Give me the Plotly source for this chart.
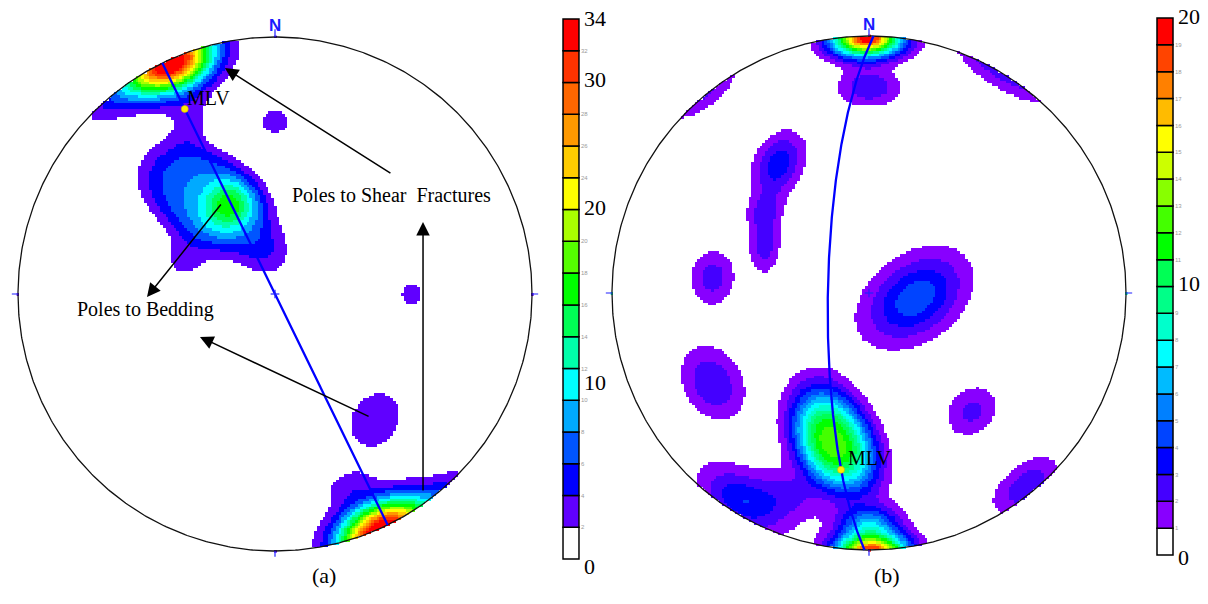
import numpy as np
import plotly.graph_objects as go

W, H = 1208, 604

# ---------------- contour bins and colours ----------------
bins_a = list(range(0, 36, 2))
colors_a = ["#ffffff", "#6000ff", "#0000ff", "#0055ff", "#00aaff", "#00ffff",
            "#00ffaa", "#00ff55", "#00ff00", "#55ff00", "#aaff00", "#ffff00",
            "#ffcc00", "#ff9900", "#ff6600", "#ff3300", "#ff0000"]
small_labels_a = [2, 4, 6, 8, 10, 12, 14, 16, 18, 20, 24, 26, 28, 32]
big_labels_a = ["0", "10", "20", "30", "34"]
big_label_pos_a = [-0.5, 11.1, 22.1, 30.2, 34.0]

bins_b = list(range(0, 21))
colors_b = ["#ffffff", "#8800ff", "#4400ff", "#0000ff", "#0044ff", "#0080ff",
            "#00bbff", "#00ffff", "#00ffcc", "#00ff88", "#00ff55", "#00ff00",
            "#44ff00", "#88ff00", "#ccff00", "#ffff00", "#ffbb00", "#ff8000",
            "#ff4400", "#ff0000"]
small_labels_b = [1, 2, 3, 4, 5, 6, 7, 8, 9, 11, 12, 13, 14, 15, 16, 17, 18, 19]
big_labels_b = ["0", "10", "20"]
big_label_pos_b = [-0.1, 10.1, 20.05]

# ---------------- pole concentrations, net (a) ----------------
# net x, net y (primitive radius = 1), spread along / across axis (deg),
# axis direction on the net (deg), peak density, profile sharpness
a_x = [-0.403, -0.58, -0.265, -0.18, -0.35, -0.03, -0.33, 0.00, 0.53, 0.39, 0.28]
a_y = [0.904, 0.80, 0.374, 0.345, 0.14, 0.15, 0.66, 0.67, 0.00, -0.49, -0.75]
a_s1 = [6.5, 7.0, 16.4, 5.6, 6.0, 5.5, 6.0, 5.0, 4.3, 8.6, 4.5]
a_s2 = [8.0, 5.5, 9.4, 5.6, 6.0, 5.5, 4.0, 5.0, 4.3, 7.5, 4.5]
a_ang = [24, 36, -37, 0, 0, 0, 90, 0, 0, 90, 0]
a_peak = [36.0, 5.0, 7.8, 10.0, 2.6, 2.6, 2.6, 2.6, 2.6, 3.2, 2.6]
a_sharp = [1, 1, 2, 1, 1, 1, 1, 1, 1, 1, 1]

# ---------------- pole concentrations, net (b) ----------------
b_x = [-0.01, 0.00, 0.61, -0.49, -0.14, 0.18, -0.354, -0.405, -0.41, -0.61, -0.61, 0.40, 0.00, -0.31]
b_y = [0.99, 0.80, -0.75, -0.81, -0.58, -0.02, 0.50, 0.19, 0.32, 0.06, -0.35, -0.46, -0.90, -0.78]
b_s1 = [5.2, 5.6, 6.0, 7.5, 11.8, 11.5, 7.0, 6.0, 4.0, 5.5, 7.2, 5.7, 5.0, 6.0]
b_s2 = [5.2, 4.8, 6.0, 7.5, 7.5, 7.8, 5.0, 3.5, 4.0, 5.5, 7.2, 5.7, 5.0, 6.0]
b_ang = [0, 0, 0, 0, 110, 35, 75, 90, 0, 0, 0, 0, 0, 0]
b_peak = [19.8, 2.9, 2.8, 3.9, 12.8, 4.8, 3.7, 2.6, 1.8, 2.5, 2.95, 2.3, 6.0, 1.8]
b_sharp = [1, 1, 1, 1, 1.25, 1, 1, 1, 1, 1, 1, 1, 1, 1]

# planes (dip direction, dip) and lineations (trend, plunge)
plane_a = (64.0, 90.0)
mlv_a = (334.0, 21.0)
plane_b = (271.0, 77.0)
mlv_b = (189.0, 31.0)

# annotation arrows on net (a): tail x, tail y, head x, head y (net units)
arrow_tail_x = [0.455, 0.576, -0.206, 0.370]
arrow_tail_y = [0.467, -0.770, 0.354, -0.479]
arrow_head_x = [-0.195, 0.576, -0.498, -0.292]
arrow_head_y = [0.879, 0.280, -0.012, -0.167]

SERIF = "Liberation Serif, Times New Roman, serif"


# ---------------- helpers ----------------
def net_vec(x, y):
    """Lambert equal-area (lower hemisphere) net point -> unit vector (N, E, Down)."""
    x = np.asarray(x, float)
    y = np.asarray(y, float)
    r2 = x * x + y * y
    f = np.sqrt(np.maximum(2.0 - r2, 0.0))
    return np.stack([y * f, x * f, 1.0 - r2], axis=-1)


def vec_net(v):
    n, e, d = v[..., 0], v[..., 1], v[..., 2]
    s = np.sqrt(1.0 / (1.0 + d))
    return e * s, n * s


def line_vec(trend, plunge):
    t, p = np.radians(trend), np.radians(plunge)
    return np.array([np.cos(p) * np.cos(t), np.cos(p) * np.sin(t), np.sin(p)])


def great_circle(dipdir, dip, n=361):
    strike = np.radians(dipdir - 90.0)
    s = np.array([np.cos(strike), np.sin(strike), 0.0])
    dv = line_vec(dipdir, dip)
    al = np.radians(np.linspace(0, 180, n))
    pts = np.outer(np.cos(al), s) + np.outer(np.sin(al), dv)
    pts[:, 2] = np.maximum(pts[:, 2], 0.0)
    return vec_net(pts)


def density(xs, ys, s1s, s2s, angs, peaks, sharp, n=191):
    g = np.linspace(-1.0, 1.0, n)
    X, Y = np.meshgrid(g, g)
    P = net_vec(X, Y)
    Z = np.zeros_like(X)
    for x0, y0, s1, s2, ang, A, k in zip(xs, ys, s1s, s2s, angs, peaks, sharp):
        c = net_vec(x0, y0)
        c = c / np.linalg.norm(c)
        b = np.radians(ang)
        eps = 1e-4
        d = net_vec(x0 + eps * np.cos(b), y0 + eps * np.sin(b)) - c
        d = d - d.dot(c) * c
        e1 = d / np.linalg.norm(d)
        e2 = np.cross(c, e1)
        sg = np.sign(P @ c)
        Q = P * sg[..., None]
        a1 = Q @ e1
        a2 = Q @ e2
        q = (a1 / np.radians(s1)) ** 2 + (a2 / np.radians(s2)) ** 2
        Z += A * np.exp(-((q / 2.0) ** k))
    Z[X * X + Y * Y > 1.0] = np.nan
    return g, Z


def step_scale(colors):
    n = len(colors)
    cs = []
    for i, col in enumerate(colors):
        cs.append([i / n, col])
        cs.append([(i + 1) / n, col])
    return cs


def domain(p0, p1, v0, v1, r0, r1, total, flip=False):
    """Axis domain so that value v0 sits at pixel p0 and v1 at p1, for range r0..r1."""
    k = (p1 - p0) / (v1 - v0)
    a = p0 + (r0 - v0) * k
    b = p0 + (r1 - v0) * k
    lo, hi = min(a, b), max(a, b)
    if flip:
        return [1 - hi / total, 1 - lo / total]
    return [lo / total, hi / total]


fig = go.Figure()

NET_R = 257.0
RNG = 1.06
nets = [
    dict(name="a", cx=275.0, cy=294.0, data=(a_x, a_y, a_s1, a_s2, a_ang, a_peak, a_sharp),
         bins=bins_a, colors=colors_a, plane=plane_a, mlv=mlv_a, xa="x", ya="y"),
    dict(name="b", cx=869.0, cy=293.0, data=(b_x, b_y, b_s1, b_s2, b_ang, b_peak, b_sharp),
         bins=bins_b, colors=colors_b, plane=plane_b, mlv=mlv_b, xa="x2", ya="y2"),
]

layout_axes = {}
theta = np.linspace(0, 2 * np.pi, 721)
for i, net in enumerate(nets):
    xa, ya = net["xa"], net["ya"]
    g, Z = density(*net["data"])
    zmax = net["bins"][-1]
    fig.add_trace(go.Heatmap(x=g, y=g, z=np.minimum(Z, zmax - 1e-6), zmin=0, zmax=zmax,
                             colorscale=step_scale(net["colors"]), showscale=False,
                             zsmooth=False, hoverinfo="skip", xaxis=xa, yaxis=ya))
    # primitive circle
    fig.add_trace(go.Scatter(x=np.cos(theta), y=np.sin(theta), mode="lines",
                             line=dict(color="#111111", width=1.3), hoverinfo="skip",
                             xaxis=xa, yaxis=ya))
    # plane great circle
    gx, gy = great_circle(*net["plane"])
    fig.add_trace(go.Scatter(x=gx, y=gy, mode="lines", line=dict(color="#0000ff", width=2.3),
                             hoverinfo="skip", xaxis=xa, yaxis=ya))
    # centre cross
    fig.add_trace(go.Scatter(x=[-0.017, 0.017, None, 0, 0], y=[0, 0, None, -0.017, 0.017],
                             mode="lines", line=dict(color="#2020ff", width=1.2),
                             hoverinfo="skip", xaxis=xa, yaxis=ya))
    # compass ticks
    fig.add_trace(go.Scatter(x=[0, 0, None, 1.0, 1.024, None, 0, 0, None, -1.0, -1.024],
                             y=[1.0, 1.03, None, 0, 0, None, -1.0, -1.022, None, 0, 0],
                             mode="lines", line=dict(color="#2020ff", width=1.2),
                             hoverinfo="skip", xaxis=xa, yaxis=ya))
    # lineation
    mx, my = vec_net(line_vec(*net["mlv"]))
    fig.add_trace(go.Scatter(x=[mx], y=[my], mode="markers",
                             marker=dict(color="#ffee00", size=7, line=dict(color="#c8b000", width=0.6)),
                             hoverinfo="skip", xaxis=xa, yaxis=ya))

    ax_suffix = "" if i == 0 else "2"
    layout_axes["xaxis" + ax_suffix] = dict(
        range=[-RNG, RNG], visible=False, fixedrange=True,
        domain=domain(net["cx"] - NET_R, net["cx"] + NET_R, -1, 1, -RNG, RNG, W),
        anchor="y" + ax_suffix)
    layout_axes["yaxis" + ax_suffix] = dict(
        range=[-RNG, RNG], visible=False, fixedrange=True,
        domain=domain(net["cy"] + NET_R, net["cy"] - NET_R, -1, 1, -RNG, RNG, H, flip=True),
        anchor="x" + ax_suffix)

# ---------------- colour bars ----------------
bars = [
    dict(bins=bins_a, colors=colors_a, x0=563, x1=579, ytop=19, ybot=559, xa="x3", ya="y3",
         small=small_labels_a, big=big_labels_a, bigpos=big_label_pos_a),
    dict(bins=bins_b, colors=colors_b, x0=1157, x1=1173, ytop=18, ybot=555, xa="x4", ya="y4",
         small=small_labels_b, big=big_labels_b, bigpos=big_label_pos_b),
]
annotations = []
for j, bar in enumerate(bars):
    lows = bar["bins"][:-1]
    highs = bar["bins"][1:]
    fig.add_trace(go.Bar(x=[0] * len(lows), y=[h - l for l, h in zip(lows, highs)], base=lows,
                         width=1.0, marker=dict(color=bar["colors"], line=dict(color="#000000", width=1.5)),
                         hoverinfo="skip", xaxis=bar["xa"], yaxis=bar["ya"]))
    top = bar["bins"][-1]
    pad = top * 0.03
    suf = str(j + 3)
    layout_axes["xaxis" + suf] = dict(range=[-0.56, 0.56], visible=False, fixedrange=True,
                                      domain=domain(bar["x0"], bar["x1"], -0.5, 0.5, -0.56, 0.56, W),
                                      anchor="y" + suf)
    layout_axes["yaxis" + suf] = dict(
        range=[-pad, top + pad], fixedrange=True, anchor="x" + suf, side="right",
        domain=domain(bar["ybot"], bar["ytop"], 0, top, -pad, top + pad, H, flip=True),
        showgrid=False, zeroline=False, showline=False, ticks="",
        tickvals=bar["small"], ticktext=[str(v) for v in bar["small"]],
        tickfont=dict(size=6, color="#9a9a9a", family="Liberation Sans, Arial"))
    for lab, pos in zip(bar["big"], bar["bigpos"]):
        annotations.append(dict(xref=bar["xa"], yref=bar["ya"], x=0.5, y=pos, text=lab,
                                showarrow=False, xanchor="left", yanchor="middle", xshift=3,
                                font=dict(family=SERIF, size=22, color="#000000")))

# ---------------- annotations ----------------
for tx, ty, hx, hy in zip(arrow_tail_x, arrow_tail_y, arrow_head_x, arrow_head_y):
    annotations.append(dict(xref="x", yref="y", axref="x", ayref="y", x=hx, y=hy, ax=tx, ay=ty,
                            text="", showarrow=True, arrowhead=2, arrowsize=1.8, arrowwidth=1.5,
                            arrowcolor="#000000"))

annotations += [
    dict(xref="x", yref="y", x=0.455, y=0.385, text="Poles to Shear  Fractures", showarrow=False,
         font=dict(family=SERIF, size=20, color="#000000")),
    dict(xref="x", yref="y", x=-0.502, y=-0.062, text="Poles to Bedding", showarrow=False,
         font=dict(family=SERIF, size=20, color="#000000")),
    dict(xref="x", yref="y", x=-0.257, y=0.763, text="MLV", showarrow=False,
         font=dict(family=SERIF, size=20, color="#000000")),
    dict(xref="x2", yref="y2", x=0.0, y=-0.642, text="MLV", showarrow=False,
         font=dict(family=SERIF, size=20, color="#000000")),
    dict(xref="x", yref="y", x=0.0, y=1.045, text="<b>N</b>", showarrow=False,
         font=dict(family="Liberation Sans, Arial", size=17, color="#1a1aff")),
    dict(xref="x2", yref="y2", x=0.0, y=1.045, text="<b>N</b>", showarrow=False,
         font=dict(family="Liberation Sans, Arial", size=17, color="#1a1aff")),
    dict(xref="paper", yref="paper", x=310 / W, y=1 - 590 / H, text="(a)", showarrow=False,
         font=dict(family=SERIF, size=22, color="#000000")),
    dict(xref="paper", yref="paper", x=902 / W, y=1 - 590 / H, text="(b)", showarrow=False,
         font=dict(family=SERIF, size=22, color="#000000")),
]

fig.update_layout(width=W, height=H, margin=dict(l=0, r=0, t=0, b=0), showlegend=False,
                  paper_bgcolor="#ffffff", plot_bgcolor="rgba(0,0,0,0)", barmode="overlay",
                  annotations=annotations, **layout_axes)

fig.write_html("out.html")
